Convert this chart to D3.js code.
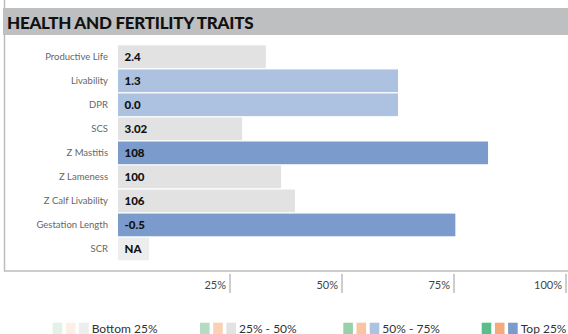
<!DOCTYPE html>
<html>
<head>
<meta charset="utf-8">
<script src="https://cdn.jsdelivr.net/npm/d3@7/dist/d3.min.js"></script>
<style>
  html, body { margin: 0; padding: 0; background: #fff; }
  svg { display: block; font-family: Lato, "Open Sans", sans-serif; }
</style>
</head>
<body>
<svg id="chart" width="568" height="334"></svg>
<script>
// Trait names, displayed values and percentile rank of each trait
const traits = ["Productive Life", "Livability", "DPR", "SCS", "Z Mastitis",
                "Z Lameness", "Z Calf Livability", "Gestation Length", "SCR"];
const traitValues = ["2.4", "1.3", "0.0", "3.02", "108", "100", "106", "-0.5", "NA"];
const percentiles = [33, 62.5, 62.5, 27.7, 82.6, 36.4, 39.5, 75.3, 6.9];

// Percent axis ticks
const tickValues = [25, 50, 75, 100];

// Legend: quartile bands and their colour swatches (green, orange, blue/grey)
const legendLabels = ["Bottom 25%", "25% - 50%", "50% - 75%", "Top 25%"];
const legendGreens = ["#e3f2e8", "#b4dcc1", "#97d0a9", "#5bbd89"];
const legendOranges = ["#fdeee6", "#fbd1b5", "#f8c4a2", "#f5aa7b"];
const legendBlues = ["#eceeed", "#e2e2e2", "#adc2e0", "#7a9bcb"];

const svg = d3.select("#chart");

// Outer frame
svg.append("rect")
  .attr("x", 4.5).attr("y", -10)
  .attr("width", 600).attr("height", 281)
  .attr("fill", "none")
  .attr("stroke", "#bdbdbd")
  .attr("stroke-width", 1.5);

// Header band
svg.append("rect")
  .attr("x", 3).attr("y", 8)
  .attr("width", 570).attr("height", 27)
  .attr("fill", "#bebfc0");

svg.append("text")
  .attr("x", 7).attr("y", 28.5)
  .attr("font-family", "Lato, sans-serif")
  .attr("font-weight", 900)
  .attr("font-size", 17)
  .attr("letter-spacing", -0.25)
  .attr("fill", "#111")
  .text("HEALTH AND FERTILITY TRAITS");

// Scales
const x = d3.scaleLinear().domain([0, 100]).range([118, 566]);
const y = d3.scaleBand().domain(traits).range([45.4, 260.3]).paddingInner(0.055);

const quartileColor = p => legendBlues[Math.min(3, Math.floor(p / 25))];

// Bars
svg.append("g").selectAll("rect")
  .data(traits)
  .join("rect")
  .attr("x", x(0))
  .attr("y", d => y(d))
  .attr("width", (d, i) => x(percentiles[i]) - x(0))
  .attr("height", y.bandwidth())
  .attr("fill", (d, i) => quartileColor(percentiles[i]));

// Value labels inside bars
svg.append("g").selectAll("text")
  .data(traits)
  .join("text")
  .attr("x", x(0) + 6.5)
  .attr("y", d => y(d) + y.bandwidth() / 2 + 4)
  .attr("font-weight", 900)
  .attr("font-size", 11.5)
  .attr("fill", "#111")
  .text((d, i) => traitValues[i]);

// Category axis labels
svg.append("g").selectAll("text")
  .data(traits)
  .join("text")
  .attr("x", 108)
  .attr("y", d => y(d) + y.bandwidth() / 2 + 3.5)
  .attr("text-anchor", "end")
  .attr("font-size", 9.5)
  .attr("fill", "#666")
  .text(d => d);

// Percent axis below the frame
const axis = svg.append("g").attr("transform", "translate(0,274)");
axis.selectAll("line")
  .data(tickValues)
  .join("line")
  .attr("x1", d => x(d)).attr("x2", d => x(d))
  .attr("y1", 0).attr("y2", 19)
  .attr("stroke", "#bdbdbd")
  .attr("stroke-width", 1.5);
axis.selectAll("text")
  .data(tickValues)
  .join("text")
  .attr("x", d => x(d) - 4)
  .attr("y", 14.5)
  .attr("text-anchor", "end")
  .attr("font-size", 11)
  .attr("fill", "#444")
  .text(d => d + "%");

// Legend
const legendX = [52.7, 200, 343.3, 481.7];
const legend = svg.append("g").selectAll("g")
  .data(legendLabels)
  .join("g")
  .attr("transform", (d, i) => `translate(${legendX[i]},322.7)`);
[legendGreens, legendOranges, legendBlues].forEach((cols, k) => {
  legend.append("rect")
    .attr("x", k * 13.2)
    .attr("y", 0)
    .attr("width", 9.6)
    .attr("height", 12)
    .attr("fill", (d, i) => cols[i]);
});
legend.append("text")
  .attr("x", 39)
  .attr("y", 332.5 - 322.7)
  .attr("font-size", 12)
  .attr("fill", "#333")
  .text(d => d);
</script>
</body>
</html>
